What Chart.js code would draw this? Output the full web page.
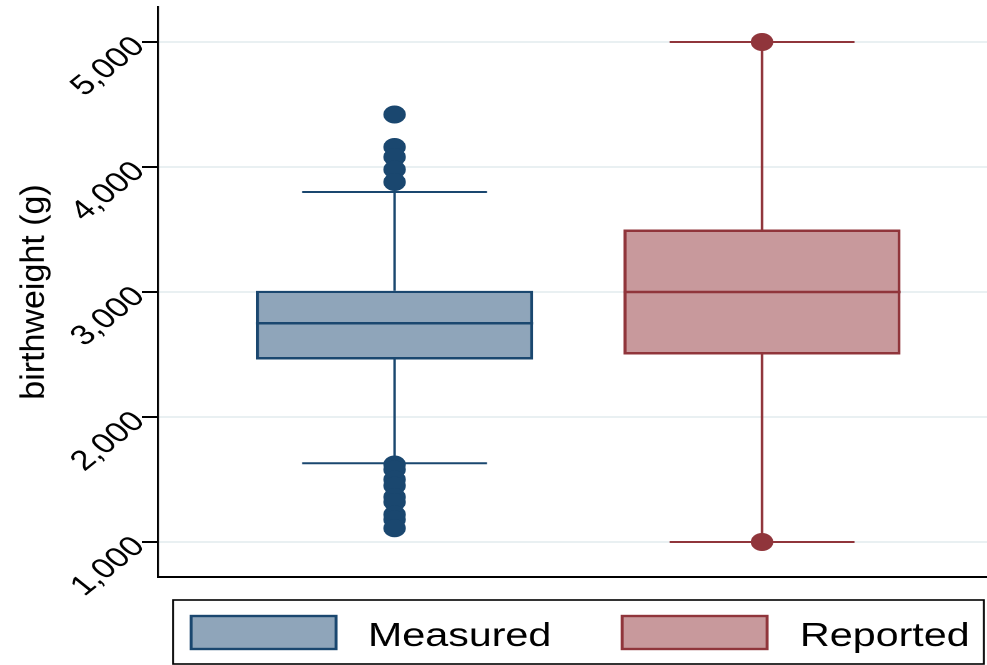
<!DOCTYPE html>
<html>
<head>
<meta charset="utf-8">
<script src="https://cdn.jsdelivr.net/npm/chart.js@4/dist/chart.umd.min.js"></script>
<style>
  html, body { margin: 0; padding: 0; background: #fff; overflow: hidden; }
  #wrap { position: absolute; left: 0; top: 0; width: 790px; height: 665px; transform: scaleX(1.2494); transform-origin: 0 0; }
</style>
</head>
<body>
<div id="wrap"><canvas id="c"></canvas></div>
<script>
// ---- data ----
const groups = ['Measured', 'Reported'];
const groupPos = [1, 2];
const lowerWhisker = [1630, 1000];
const q1 = [2460, 2500];
const median = [2750, 3000];
const q3 = [3010, 3500];
const upperWhisker = [3800, 5000];
const measuredOutliers = [4420, 4160, 4080, 3980, 3880, 1620, 1580, 1500, 1450, 1360, 1320, 1220, 1180, 1110];
const reportedOutliers = [5000, 1000];
const yTicks = [1000, 2000, 3000, 4000, 5000];
const yTickLabels = ['1,000', '2,000', '3,000', '4,000', '5,000'];
const yTitle = 'birthweight (g)';

// ---- styles ----
const STRETCH = 1.2494;
const strokeColors = ['#1a476f', '#90353b'];
const fillColors = ['#8fa5ba', '#c8999c'];
const BOX_HALF = 0.377;   // half box width in x units
const CAP_HALF = 0.2516;  // half whisker-cap width in x units
const FONT = "'Liberation Sans', Arial, Helvetica, sans-serif";

const outlierSets = [measuredOutliers, reportedOutliers];
const datasets = [];

groups.forEach((g, i) => {
  const p = groupPos[i];
  datasets.push({
    type: 'line', label: g + ' whiskers', order: 3,
    data: [
      {x: p - CAP_HALF, y: upperWhisker[i]}, {x: p + CAP_HALF, y: upperWhisker[i]}, {x: p, y: null},
      {x: p, y: upperWhisker[i]}, {x: p, y: q3[i]}, {x: p, y: null},
      {x: p, y: q1[i]}, {x: p, y: lowerWhisker[i]}, {x: p, y: null},
      {x: p - CAP_HALF, y: lowerWhisker[i]}, {x: p + CAP_HALF, y: lowerWhisker[i]}
    ],
    borderColor: strokeColors[i], borderWidth: 2, pointRadius: 0, spanGaps: false, fill: false, tension: 0
  });
  datasets.push({
    type: 'bar', label: g, order: 2, grouped: false,
    data: [{x: p, y: [q1[i], q3[i]]}],
    backgroundColor: fillColors[i], borderColor: strokeColors[i], borderWidth: 2.5,
    borderSkipped: false, categoryPercentage: 1, barPercentage: 2 * BOX_HALF
  });
  datasets.push({
    type: 'line', label: g + ' median', order: 1,
    data: [{x: p - BOX_HALF, y: median[i]}, {x: p + BOX_HALF, y: median[i]}],
    borderColor: strokeColors[i], borderWidth: 2.5, pointRadius: 0, fill: false
  });
  datasets.push({
    type: 'scatter', label: g + ' outliers', order: 0,
    data: outlierSets[i].map(v => ({x: p, y: v})),
    backgroundColor: strokeColors[i], borderWidth: 0, pointRadius: 9, pointHoverRadius: 9
  });
});

const extrasPlugin = {
  id: 'extras',
  afterDraw(chart) {
    const ctx = chart.ctx;
    const area = chart.chartArea;
    ctx.save();
    // y-axis title (drawn without the horizontal stretch)
    ctx.save();
    ctx.translate(27.5, (area.top + area.bottom) / 2);
    ctx.scale(1 / STRETCH, 1);
    ctx.rotate(-Math.PI / 2);
    ctx.fillStyle = '#000';
    ctx.font = '34px ' + FONT;
    ctx.textAlign = 'center';
    ctx.textBaseline = 'middle';
    ctx.fillText(yTitle, 0, 0);
    ctx.restore();
    // legend
    ctx.strokeStyle = '#000';
    ctx.lineWidth = 1.6;
    ctx.strokeRect(138.5, 600, 649, 64);
    const sw = [{x: 152, t: 294.5}, {x: 497, t: 640.3}];
    groups.forEach((g, i) => {
      ctx.fillStyle = fillColors[i];
      ctx.fillRect(sw[i].x, 615, 118, 35);
      ctx.strokeStyle = strokeColors[i];
      ctx.lineWidth = 2.4;
      ctx.strokeRect(sw[i].x + 1, 616, 116, 33);
      ctx.fillStyle = '#000';
      ctx.font = '33px ' + FONT;
      ctx.textBaseline = 'alphabetic';
      ctx.textAlign = 'left';
      ctx.fillText(g, sw[i].t, 646);
    });
    ctx.restore();
  }
};

new Chart(document.getElementById('c'), {
  data: { datasets },
  options: {
    responsive: true, maintainAspectRatio: false, animation: false,
    devicePixelRatio: 2,
    layout: { autoPadding: false, padding: { top: 7, bottom: 88, left: 0, right: 0 } },
    plugins: { legend: { display: false }, tooltip: { enabled: false } },
    scales: {
      x: {
        type: 'linear', min: 0.3563, max: 2.6124, offset: false,
        ticks: { display: false },
        grid: { display: false },
        border: { display: true, color: '#000', width: 2 },
        afterBuildTicks(s) { s.ticks = groupPos.map(v => ({value: v})); },
        afterFit(s) { s.height = 0; s.paddingLeft = 0; s.paddingRight = 0; }
      },
      y: {
        type: 'linear', min: 720, max: 5280,
        afterBuildTicks(s) { s.ticks = yTicks.map(v => ({value: v})); },
        afterFit(s) { s.width = 126.5; s.paddingTop = 0; s.paddingBottom = 0; },
        ticks: {
          minRotation: 45, maxRotation: 45, padding: 2, color: '#000',
          font: { family: FONT, size: 28 },
          callback(v) { const k = yTicks.indexOf(v); return k >= 0 ? yTickLabels[k] : ''; }
        },
        grid: { color: '#e9f0f2', lineWidth: 2, tickColor: '#000', tickLength: 13, tickWidth: 2 },
        border: { display: true, color: '#000', width: 1.8 },
        title: { display: false }
      }
    }
  },
  plugins: [extrasPlugin]
});
</script>
</body>
</html>
